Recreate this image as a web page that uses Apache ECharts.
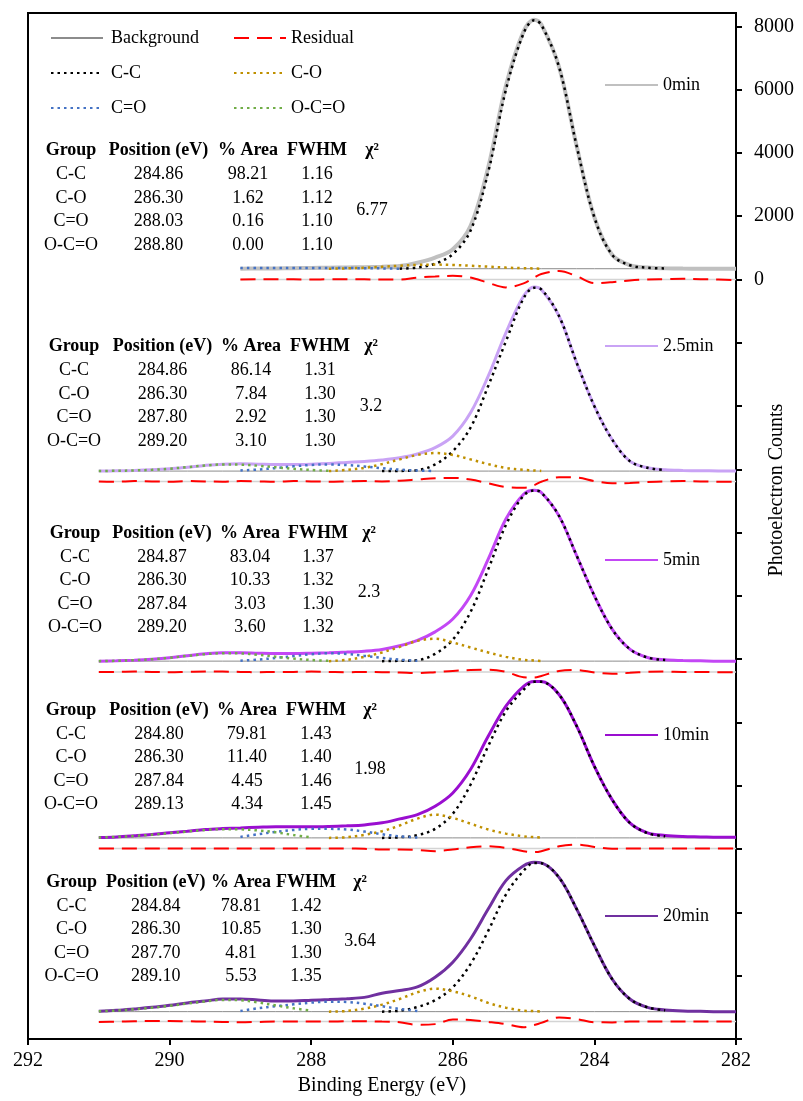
<!DOCTYPE html>
<html>
<head>
<meta charset="utf-8">
<title>C1s spectra</title>
<script src="https://cdn.jsdelivr.net/npm/echarts@6/dist/echarts.min.js"></script>
<style>
html,body{margin:0;padding:0;background:#fff;}
#main{width:803px;height:1101px;}
</style>
</head>
<body>
<div id="main"></div>
<script>
// binding energy grid (eV), shared by every curve
var energy = [291.0,290.75,290.5,290.25,290.0,289.75,289.5,289.25,
    289.0,288.75,288.5,288.25,288.0,287.75,287.5,287.25,
    287.0,286.75,286.5,286.25,286.0,285.75,285.5,285.25,
    285.0,284.85,284.75,284.5,284.25,284.0,283.75,283.5,
    283.25,283.0,282.75,282.5,282.25,282.0];

var samples = ['0min','2.5min','5min','10min','20min'];

// stacking: residual zero of each panel, and background height above it (counts)
var panelZero = [0,-6380,-12400,-17980,-23450];
var bgLevel = [340,325,340,335,315];

// 0min (counts above background)
var spec0 = [null,null,null,null,null,null,null,null, 0,5,10,15,25,30,40,50, 65,85,190,350,615,1350,3200,5780, 7500,7870,7720,6380,3870,1620,440,110, 35,15,5,0,0,0];
var cc0   = [null,null,null,null,null,null,null,null, null,null,null,null,null,null,null,null, null,0,40,160,460,1200,3050,5650, 7440,7850,7710,6380,3870,1620,440,110, 30,10,null,null,null,null];
var co0   = [null,null,null,null,null,null,null,null, null,null,null,null,null,0,10,30, 60,95,120,130,120,95,65,35, 15,8,0,null,null,null,null,null, null,null,null,null,null,null];
var cdo0  = [null,null,null,null,null,null,null,null, 20,20,20,20,20,20,20,15, 10,0,null,null,null,null,null,null, null,null,null,null,null,null,null,null, null,null,null,null,null,null];
var ocdo0 = [null,null,null,null,null,null,null,null, null,null,null,null,null,null,null,null, null,null,null,null,null,null,null,null, null,null,null,null,null,null,null,null, null,null,null,null,null,null];
var res0  = [null,null,null,null,null,null,null,null, 0,10,10,5,0,5,10,5, 0,0,60,95,115,60,-105,-250, -125,60,170,265,105,-115,-85,-30, 0,10,20,10,0,-20];

// 2.5min
var spec25 = [0,10,20,40,75,125,180,220, 230,220,210,210,220,240,275,305, 350,420,540,740,1105,1840,3000,4370, 5530,5820,5740,4900,3420,2050,1000,315, 105,40,20,10,5,0];
var cc25   = [null,null,null,null,null,null,null,null, null,null,null,null,null,null,null,null, 0,5,30,210,630,1370,2690,4100, 5460,5790,5740,4900,3420,2050,1000,315, 105,30,null,null,null,null];
var co25   = [null,null,null,null,null,null,null,null, null,null,null,null,null,0,40,100, 220,370,510,570,510,370,220,100, 40,20,5,null,null,null,null,null, null,null,null,null,null,null];
var cdo25  = [null,null,null,null,null,null,null,null, 20,50,95,150,195,210,190,145, 90,45,20,0,null,null,null,null, null,null,null,null,null,null,null,null, null,null,null,null,null,null];
var ocdo25 = [0,10,20,40,75,125,175,210, 205,170,120,70,35,10,null,null, null,null,null,null,null,null,null,null, null,null,null,null,null,null,null,null, null,null,null,null,null,null];
var res25  = [0,-10,10,0,-10,10,0,-10, 10,0,-10,10,0,-10,0,10, 0,20,60,100,110,60,-60,-180, -200,-120,-10,130,120,10,-60,-50, -20,0,10,0,-10,-10];

// 5min
var spec5 = [0,10,30,60,105,170,230,265, 265,250,240,240,250,265,285,315, 370,485,655,925,1330,2065,3220,4490, 5275,5400,5330,4590,3330,2065,1010,380, 115,40,20,10,0,0];
var cc5   = [null,null,null,null,null,null,null,null, null,null,null,null,null,null,null,null, 0,10,30,230,680,1550,2900,4300, 5230,5390,5330,4590,3330,2065,1010,380, 115,35,null,null,null,null];
var co5   = [null,null,null,null,null,null,null,null, null,null,null,null,null,0,40,135, 275,450,640,705,590,430,275,135, 40,20,5,null,null,null,null,null, null,null,null,null,null,null];
var cdo5  = [null,null,null,null,null,null,null,null, 15,50,100,160,220,250,225,165, 100,45,10,null,null,null,null,null, null,null,null,null,null,null,null,null, null,null,null,null,null,null];
var ocdo5 = [0,10,30,60,105,165,220,250, 245,200,140,80,35,10,null,null, null,null,null,null,null,null,null,null, null,null,null,null,null,null,null,null, null,null,null,null,null,null];
var res5  = [0,0,10,0,-10,0,10,10, 0,-10,0,0,10,0,-10,0, -10,-20,-40,-10,30,60,70,0, -170,-180,-130,30,60,-20,-60,-30, 0,10,0,0,-10,-10];

// 10min
var spec10 = [10,30,65,105,160,210,265,295, 315,335,350,350,350,360,380,410, 475,600,735,1000,1420,2160,3210,4160, 4790,4940,4940,4530,3530,2260,1210,475, 160,75,40,30,20,20];
var cc10   = [null,null,null,null,null,null,null,null, null,null,null,null,null,null,null,null, 0,20,85,285,760,1680,2900,4000, 4680,4930,4930,4530,3530,2260,1210,475, 150,50,null,null,null,null];
var co10   = [null,null,null,null,null,null,null,null, null,null,null,null,null,0,20,95, 210,390,610,735,630,450,265,135, 50,25,10,null,null,null,null,null, null,null,null,null,null,null];
var cdo10  = [null,null,null,null,null,null,null,null, 30,115,190,250,285,285,265,200, 115,50,10,null,null,null,null,null, null,null,null,null,null,null,null,null, null,null,null,null,null,null];
var ocdo10 = [10,30,60,100,150,200,250,275, 270,235,175,90,15,null,null,null, null,null,null,null,null,null,null,null, null,null,null,null,null,null,null,null, null,null,null,null,null,null];
var res10  = [0,0,0,0,0,0,0,0, 0,0,0,0,0,0,0,-10, -30,-30,-50,-85,-30,40,70,20, -85,-115,-85,70,125,50,-10,0, 0,0,0,0,0,0];

// 20min
var spec20 = [10,40,85,135,200,275,335,400, 400,370,335,335,360,380,410,450, 580,665,780,1085,1560,2295,3240,4140, 4610,4720,4700,4240,3240,2085,1030,400, 135,55,20,10,0,0];
var cc20   = [null,null,null,null,null,null,null,null, null,null,null,null,null,null,null,null, 0,30,145,360,770,1500,2550,3700, 4450,4700,4690,4240,3240,2085,1030,400, 135,40,null,null,null,null];
var co20   = [null,null,null,null,null,null,null,null, null,null,null,null,null,0,20,95, 220,400,610,725,640,485,275,125, 30,15,5,null,null,null,null,null, null,null,null,null,null,null];
var cdo20  = [null,null,null,null,null,null,null,null, 20,105,170,230,285,315,305,250, 170,85,20,null,null,null,null,null, null,null,null,null,null,null,null,null, null,null,null,null,null,null];
var ocdo20 = [10,35,75,125,185,255,320,370, 360,290,195,105,30,null,null,null, null,null,null,null,null,null,null,null, null,null,null,null,null,null,null,null, null,null,null,null,null,null];
var res20  = [-10,0,10,20,20,10,0,-10, -20,-10,0,0,0,0,10,10, 0,-20,-100,-80,70,50,-10,-80, -180,-110,-40,130,80,-20,-25,0, 0,0,0,0,0,0];

// fit tables
var groups = ['C-C','C-O','C=O','O-C=O'];
var fitPosition = [['284.86','286.30','288.03','288.80'],['284.86','286.30','287.80','289.20'],['284.87','286.30','287.84','289.20'],['284.80','286.30','287.84','289.13'],['284.84','286.30','287.70','289.10']];
var fitArea = [['98.21','1.62','0.16','0.00'],['86.14','7.84','2.92','3.10'],['83.04','10.33','3.03','3.60'],['79.81','11.40','4.45','4.34'],['78.81','10.85','4.81','5.53']];
var fitFwhm = [['1.16','1.12','1.10','1.10'],['1.31','1.30','1.30','1.30'],['1.37','1.32','1.30','1.32'],['1.43','1.40','1.46','1.45'],['1.42','1.30','1.30','1.35']];
var chiSq = ['6.77','3.2','2.3','1.98','3.64'];

var yTicks = [-24000,-22000,-20000,-18000,-16000,-14000,-12000,-10000,-8000,-6000,-4000,-2000,0,2000,4000,6000,8000];
var yLabels = [0,2000,4000,6000,8000];

var panels = [
    {spec:spec0, cc:cc0, co:co0, cdo:cdo0, ocdo:ocdo0, res:res0},
    {spec:spec25, cc:cc25, co:co25, cdo:cdo25, ocdo:ocdo25, res:res25},
    {spec:spec5, cc:cc5, co:co5, cdo:cdo5, ocdo:ocdo5, res:res5},
    {spec:spec10, cc:cc10, co:co10, cdo:cdo10, ocdo:ocdo10, res:res10},
    {spec:spec20, cc:cc20, co:co20, cdo:cdo20, ocdo:ocdo20, res:res20}
];

var FONT = '"Liberation Serif", "Times New Roman", serif';
var specColors = ['#c0c0c0','#c9a3f5','#c347f5','#9a0ed0','#7030a0'];
var dot = [2.5,4];

// [energy, value+offset] pairs, nulls skipped
function toPairs(arr, base){
    var out = [];
    for (var i = 0; i < arr.length; i++) {
        if (arr[i] !== null) out.push([energy[i], arr[i] + base]);
    }
    return out;
}
// flat line over the span of a spectrum
function flat(arr, level){
    var out = [];
    for (var i = 0; i < arr.length; i++) {
        if (arr[i] !== null) out.push([energy[i], level]);
    }
    return out;
}
function line(name, data, color, width, type, z, smooth){
    return {
        name: name, type: 'line', data: data, symbol: 'none', showSymbol: false,
        smooth: smooth, z: z, silent: true,
        itemStyle: {color: color},
        lineStyle: {color: color, width: width, type: type}
    };
}

var series = [];
panels.forEach(function(pn, p){
    var zero = panelZero[p];
    var bg = zero + bgLevel[p];
    series.push(line('zero' + p, flat(pn.spec, zero), '#d4d4d4', 1.5, 'solid', 1, false));
    series.push(line('Background', flat(pn.spec, bg), '#8c8c8c', 1, 'solid', 1, false));
    series.push(line(samples[p], toPairs(pn.spec, bg), specColors[p], p === 0 ? 4 : 3, 'solid', 2, 0.35));
    series.push(line('C-C', toPairs(pn.cc, bg), '#000000', 2.5, dot, 3, 0.35));
    series.push(line('C-O', toPairs(pn.co, bg), '#bf9000', 2.5, dot, 3, 0.35));
    series.push(line('C=O', toPairs(pn.cdo, bg), '#4472c4', 2.5, dot, 3, 0.35));
    series.push(line('O-C=O', toPairs(pn.ocdo, bg), '#70ad47', 2.5, dot, 3, 0.35));
    series.push(line('Residual', toPairs(pn.res, zero), '#ff0000', 2, [15,8], 4, 0.35));
});

// table text as graphic elements
var tableCols = [[71,158.5,248,317,372],[74,162.5,251,320,371],[75,162,250,318,369],[71,159,247,316,370],[71.6,155.7,241,306,360]];
var tableTop = [150.7,346.7,533,710,882];
var heads = ['Group','Position (eV)','% Area','FWHM','\u03c7\u00b2'];
var graphic = [];
function txt(s, x, y, bold, size){
    graphic.push({
        type: 'text', x: x, y: y, silent: true,
        style: {text: s, fill: '#000', font: (bold ? 'bold ' : '') + (size || 18) + 'px ' + FONT,
            align: 'center', verticalAlign: 'middle'}
    });
}
for (var p = 0; p < 5; p++) {
    var c = tableCols[p], t = tableTop[p];
    for (var j = 0; j < heads.length; j++) txt(heads[j], c[j], t, true);
    for (var r = 0; r < 4; r++) {
        var y = t + 24 + 23.4 * r;
        txt(groups[r], c[0], y);
        txt(fitPosition[p][r], c[1], y);
        txt(fitArea[p][r], c[2], y);
        txt(fitFwhm[p][r], c[3], y);
    }
    txt(chiSq[p], c[4], t + 24 + 23.4 * 1.5);
}
graphic.push({
    type: 'text', x: 777, y: 490, rotation: Math.PI / 2, silent: true,
    style: {text: 'Photoelectron Counts', fill: '#000', font: '20px ' + FONT, align: 'center', verticalAlign: 'middle'}
});

var legendBase = {
    orient: 'vertical', padding: 0, itemWidth: 52, itemHeight: 20, itemGap: 15,
    selectedMode: false,
    itemStyle: {opacity: 0},
    textStyle: {fontFamily: FONT, fontSize: 18, color: '#000', lineHeight: 20}
};
function legend(data, left, top, extra){
    var o = {data: data, left: left, top: top};
    for (var k in legendBase) o[k] = legendBase[k];
    if (extra) for (var e in extra) o[e] = extra[e];
    return o;
}
var specLegendTop = [75,336,550,725,906];
var legends = [
    legend(['Background','C-C','C=O'], 50, 28, {textStyle: {fontFamily: FONT, fontSize: 18, color: '#000', lineHeight: 20, padding: [0,0,0,3]}}),
    legend(['Residual','C-O','O-C=O'], 233, 28)
];
samples.forEach(function(s, i){
    legends.push(legend([s], 604, specLegendTop[i], {itemWidth: 53}));
});

var chart = echarts.init(document.getElementById('main'));
chart.setOption({
    animation: false,
    backgroundColor: '#fff',
    grid: {left: 28, right: 67, top: 13, bottom: 62, show: true, borderColor: '#000', borderWidth: 2},
    legend: legends,
    graphic: graphic,
    xAxis: {
        type: 'value', min: 282, max: 292, interval: 2, inverse: true,
        name: 'Binding Energy (eV)', nameLocation: 'middle', nameGap: 36,
        nameTextStyle: {fontFamily: FONT, fontSize: 20, color: '#000'},
        axisLine: {onZero: false, lineStyle: {color: '#000', width: 2}},
        axisTick: {length: 6, lineStyle: {color: '#000', width: 2}},
        axisLabel: {fontFamily: FONT, fontSize: 20, color: '#000', margin: 12},
        splitLine: {show: false}
    },
    yAxis: {
        type: 'value', position: 'right', min: -24000, max: 8420, interval: 2000,
        axisLine: {show: true, lineStyle: {color: '#000', width: 2}},
        axisTick: {show: true, length: 6, customValues: yTicks, lineStyle: {color: '#000', width: 2}},
        axisLabel: {fontFamily: FONT, fontSize: 20, color: '#000', margin: 18, customValues: yLabels,
            formatter: function(v){ return String(v); }},
        splitLine: {show: false}
    },
    series: series
});
</script>
</body>
</html>
